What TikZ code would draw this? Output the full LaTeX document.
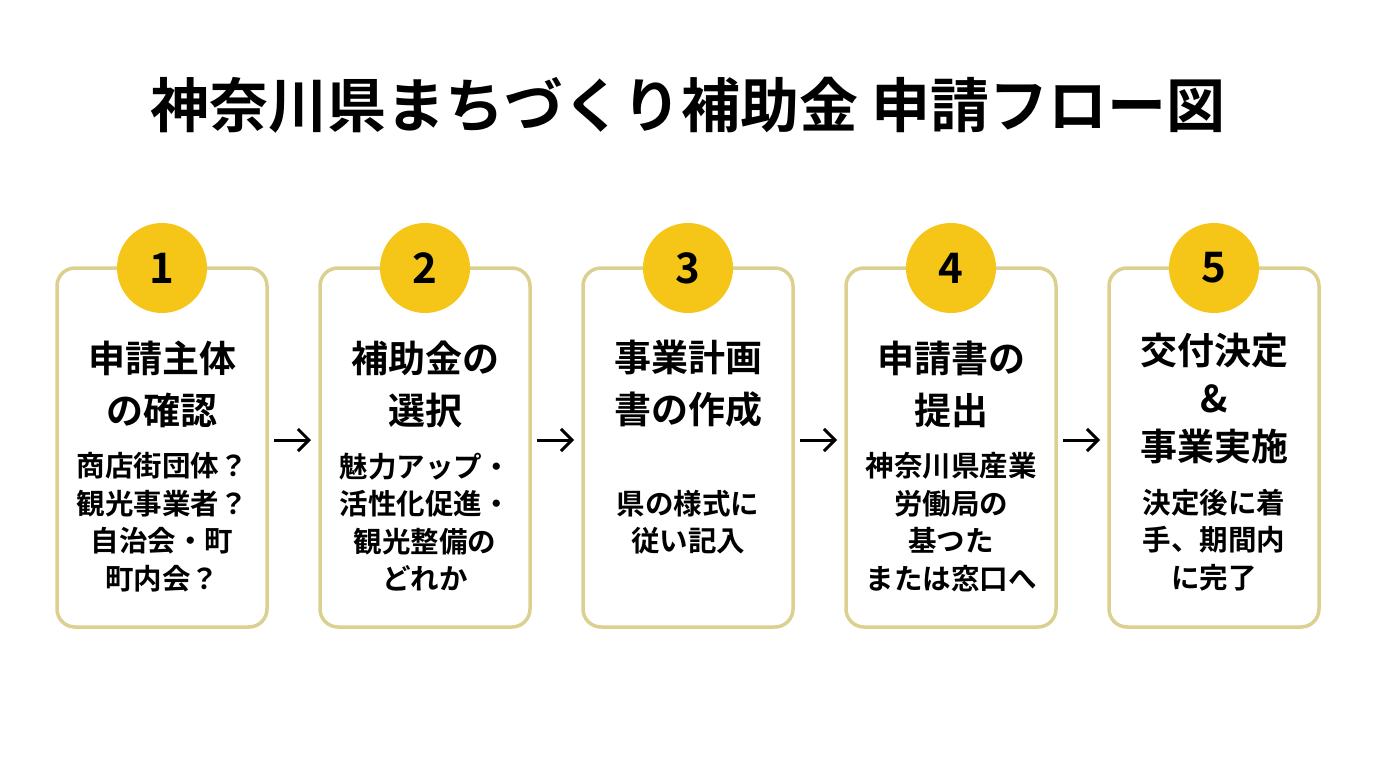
\documentclass[tikz,border=0pt]{standalone}
\usepackage{fontspec}
\setmainfont{Noto Sans CJK JP}[BoldFont={* Bold}]
\usetikzlibrary{arrows.meta}
\definecolor{frametan}{HTML}{DCD091}
\definecolor{stepyellow}{HTML}{F5C518}
\tikzstyle{stepbox}=[draw=frametan,line width=3.5pt,rounded corners=18pt,fill=white]
\tikzstyle{stepnum}=[circle,fill=stepyellow,minimum size=90pt,inner sep=0pt,font=\fontsize{42}{42}\selectfont\bfseries]
\tikzstyle{head}=[font=\fontsize{37}{52}\selectfont\bfseries,align=center,inner sep=0pt]
\tikzstyle{body}=[font=\fontsize{28.5}{37.5}\selectfont\bfseries,align=center,inner sep=0pt]
\tikzstyle{flow}=[-{Straight Barb[length=11pt,width=22pt]},line width=3pt]
\newcommand{\stepx}[1]{162+263*(#1-1)}

\begin{document}
\begin{tikzpicture}[x=1pt,y=-1pt]
  \useasboundingbox (0,0) rectangle (1376,768);
  \node[font=\fontsize{59}{59}\selectfont\bfseries,inner sep=0pt] (title) at (688,105) {神奈川県まちづくり補助金 申請フロー図};
  % boxes and numbers
  \foreach \i in {1,...,5}{
    \draw[stepbox] ({\stepx{\i}-105},268) rectangle ({\stepx{\i}+105},627);
    \node[stepnum] (n\i) at ({\stepx{\i}},268) {\i};
    \coordinate (l\i) at ({\stepx{\i}-108},440);
    \coordinate (r\i) at ({\stepx{\i}+108},440);
  }
  % arrows
  \foreach \i/\j in {1/2,2/3,3/4,4/5}{
    \draw[flow] ([xshift=4pt]r\i) -- ([xshift=-6pt]l\j);
  }
  % step 1
  \node[head] (h1) at (162,384) {申請主体\\の確認};
  \node[body] (b1) at (162,522) {商店街団体？\\観光事業者？\\自治会・町\\町内会？};
  % step 2
  \node[head] (h2) at (425,384) {補助金の\\選択};
  \node[body] (b2) at (425,522) {魅力アップ・\\活性化促進・\\観光整備の\\どれか};
  % step 3
  \node[head] (h3) at (688,384) {事業計画\\書の作成};
  \node[body] (b3) at (688,522) {県の様式に\\従い記入};
  % step 4
  \node[head] (h4) at (951,384) {申請書の\\提出};
  \node[body] (b4) at (951,522) {神奈川県産業\\労働局の\\基つた\\または窓口へ};
  % step 5
  \node[head,font=\fontsize{37}{48}\selectfont\bfseries] (h5) at (1214,398) {交付決定\\\&\\事業実施};
  \node[body] (b5) at (1214,540) {決定後に着\\手、期間内\\に完了};
\end{tikzpicture}
\end{document}
